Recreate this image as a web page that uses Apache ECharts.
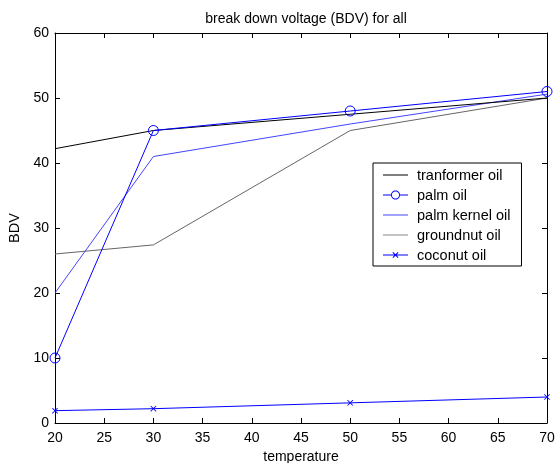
<!DOCTYPE html>
<html><head><meta charset="utf-8">
<script src="https://cdn.jsdelivr.net/npm/echarts@6/dist/echarts.min.js"></script>
<style>html,body{margin:0;padding:0;background:#fff}#c{width:558px;height:463px}</style>
</head><body><div id="c"></div>
<script>
const temperature = [20, 30, 50, 70];
const transformerOil = [42.2, 45, 47.5, 50];
const palmOil = [10, 45, 48, 51];
const palmKernelOil = [20, 41, 46, 50.6];
const groundnutOil = [26, 27.4, 45, 50];
const coconutOil = [1.9, 2.2, 3.1, 4.0];
const seriesNames = ['tranformer oil', 'palm oil', 'palm kernel oil', 'groundnut oil', 'coconut oil'];

const pairs = v => temperature.map((t, i) => [t, v[i]]);
const xMark = 'path://M0,1L1,0L5,4L9,0L10,1L6,5L10,9L9,10L5,6L1,10L0,9L4,5Z';
const font = 'Liberation Sans, Arial, sans-serif';
// legend icons (25x14 box, tiny corner specks fix the bounding box)
const box = 'M0,0L0.01,0L0,0.01Z M25,14L24.99,14L25,13.99Z ';
function ring(cx, cy, r, dir) {
  let s = '';
  for (let i = 0; i <= 32; i++) {
    const a = dir * i / 32 * Math.PI * 2;
    s += (i ? 'L' : 'M') + (cx + r * Math.cos(a)).toFixed(2) + ',' + (cy + r * Math.sin(a)).toFixed(2);
  }
  return s + 'Z ';
}
const iconLine = 'path://' + box + 'M0,6L25,6L25,7L0,7Z';
const iconCircle = 'path://' + box + 'M0,6L8.3,6L8.3,7L0,7Z M16.7,6L25,6L25,7L16.7,7Z ' +
  ring(12.5, 6.5, 4.5, 1) + ring(12.5, 6.5, 3.6, -1);
const iconX = 'path://' + box + 'M0,6L25,6L25,7L0,7Z ' +
  'M9.5,4.2L10.2,3.5L12.5,5.8L14.8,3.5L15.5,4.2L13.2,6.5L15.5,8.8L14.8,9.5L12.5,7.2L10.2,9.5L9.5,8.8L11.8,6.5Z';

const chart = echarts.init(document.getElementById('c'));
const tickCommon = {
  axisLine: {show: true, onZero: false, lineStyle: {color: '#000', width: 1}},
  axisTick: {show: true, inside: true, length: 5, lineStyle: {color: '#000'}},
  splitLine: {show: false}
};
const legendItem = (name, icon, color) =>
  ({name: name, icon: icon, itemStyle: {color: color, borderWidth: 0}});
chart.setOption({
  animation: false,
  backgroundColor: '#fff',
  title: {text: 'break down voltage (BDV) for all', left: 301, top: 7, textAlign: 'center',
    textStyle: {fontFamily: font, fontSize: 14, fontWeight: 'normal', color: '#000'}},
  grid: {left: 55, right: 11, top: 33, bottom: 40, containLabel: false, outerBoundsMode: 'none'},
  legend: {
    orient: 'vertical', left: 373, top: 163,
    padding: [5, 11, 3, 10], itemGap: 5, itemWidth: 25, itemHeight: 14,
    borderColor: '#000', borderWidth: 1, backgroundColor: '#fff',
    textStyle: {fontFamily: font, fontSize: 14.5, color: '#000', padding: [0, 0, 0, 4]},
    data: [
      legendItem(seriesNames[0], iconLine, '#000'),
      legendItem(seriesNames[1], iconCircle, '#0000ff'),
      legendItem(seriesNames[2], iconLine, '#4444ff'),
      legendItem(seriesNames[3], iconLine, '#888'),
      legendItem(seriesNames[4], iconX, '#0000ff')
    ]
  },
  xAxis: [
    Object.assign({type: 'value', min: 20, max: 70, interval: 5, name: 'temperature',
      nameLocation: 'middle', nameGap: 25,
      nameTextStyle: {fontFamily: font, fontSize: 14, color: '#000'},
      axisLabel: {fontFamily: font, fontSize: 14, color: '#000', margin: 8}}, tickCommon),
    Object.assign({type: 'value', min: 20, max: 70, interval: 5, position: 'top',
      axisLabel: {show: false}}, tickCommon)
  ],
  yAxis: [
    Object.assign({type: 'value', min: 0, max: 60, interval: 10, name: 'BDV',
      nameLocation: 'middle', nameGap: 24,
      nameTextStyle: {fontFamily: font, fontSize: 14.5, color: '#000'},
      axisLabel: {fontFamily: font, fontSize: 14, color: '#000', margin: 6}}, tickCommon),
    Object.assign({type: 'value', min: 0, max: 60, interval: 10, position: 'right',
      axisLabel: {show: false}}, tickCommon)
  ],
  series: [
    {name: seriesNames[4], type: 'line', data: pairs(coconutOil), symbol: xMark, symbolSize: 6,
      lineStyle: {color: '#0000ff', width: 1}, itemStyle: {color: '#0000ff'}},
    {name: seriesNames[3], type: 'line', data: pairs(groundnutOil), symbol: 'none',
      lineStyle: {color: '#666', width: 1}, itemStyle: {color: '#666'}},
    {name: seriesNames[2], type: 'line', data: pairs(palmKernelOil), symbol: 'none',
      lineStyle: {color: '#4444ff', width: 1}, itemStyle: {color: '#4444ff'}},
    {name: seriesNames[0], type: 'line', data: pairs(transformerOil), symbol: 'none',
      lineStyle: {color: '#000', width: 1}, itemStyle: {color: '#000'}},
    {name: seriesNames[1], type: 'line', data: pairs(palmOil), symbol: 'circle', symbolSize: 10,
      lineStyle: {color: '#0000ff', width: 1},
      itemStyle: {color: 'rgba(0,0,0,0)', borderColor: '#0000ff', borderWidth: 1}}
  ]
});
</script></body></html>
